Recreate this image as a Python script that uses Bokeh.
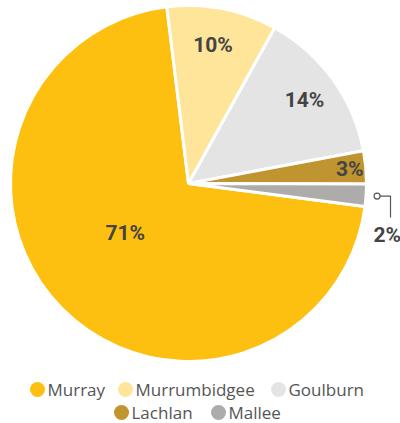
import math
from bokeh.plotting import figure
from bokeh.models import Range1d, ColumnDataSource
from bokeh.core.properties import value
from bokeh.embed import file_html
from bokeh.resources import INLINE

# ---- data ----
categories = ["Murray", "Murrumbidgee", "Goulburn", "Lachlan", "Mallee"]
shares = [71, 10, 14, 3, 2]
pct_labels = ["71%", "10%", "14%", "3%", "2%"]

# ---- style / layout ----
colors = ["#FDC010", "#FEE599", "#E5E4E4", "#C0942E", "#AEABAB"]
W, H = 400, 423
CX, CY, R = 188, 183, 178          # page pixel coordinates
FIRST_CW = -7.0                     # clockwise angle (deg from 12 o'clock) where Murrumbidgee starts
label_r = [80, 141, 143, 162, None]
label_off = [7, -1, 0, 0, 0]
legend_x = [37, 125, 278, 121, 218]
legend_y = [389, 389, 389, 412, 412]

p = figure(width=W, height=H, output_backend="svg", toolbar_location=None,
           x_range=Range1d(0, W), y_range=Range1d(-H, 0),
           x_axis_location=None, y_axis_location=None, min_border=0)
p.grid.visible = False
p.outline_line_color = None
p.background_fill_color = "white"
p.border_fill_color = "white"

total = sum(shares)
start_cw = FIRST_CW - 360.0 * shares[0] / total
starts, ends, mids = [], [], []
cum = start_cw
for s in shares:
    a = cum
    b = cum + 360.0 * s / total
    starts.append(math.radians(90 - b))
    ends.append(math.radians(90 - a))
    mids.append((a + b) / 2)
    cum = b

src = ColumnDataSource(dict(start=starts, end=ends, color=colors, cat=categories))
p.wedge(x=CX, y=-CY, radius=R, start_angle="start", end_angle="end",
        fill_color="color", line_color="white", line_width=3, source=src)

# in-slice labels
lx, ly, lt = [], [], []
for i in range(len(shares)):
    if label_r[i] is None:
        continue
    ang = math.radians(mids[i] + label_off[i])
    lx.append(CX + label_r[i] * math.sin(ang))
    ly.append(-(CY - label_r[i] * math.cos(ang)))
    lt.append(pct_labels[i])
p.text(x=lx, y=ly, text=lt, text_font=value("Roboto"), text_font_style="bold",
       text_font_size="21px", text_color="#444444", text_align="center",
       text_baseline="middle")

# leader line for the small slice
i = 4
ang = math.radians(mids[i])
px = CX + 189 * math.sin(ang)
py = CY - 189 * math.cos(ang)
p.line(x=[px, 390, 390], y=[-py, -py, -217], line_color="#555555", line_width=1.2)
p.scatter(x=[px], y=[-py], size=6, marker="circle", fill_color="white",
          line_color="#555555", line_width=1.2)
p.text(x=[373], y=[-234], text=[pct_labels[i]], text_font=value("Roboto"),
       text_font_style="bold", text_font_size="21px", text_color="#444444",
       text_align="left", text_baseline="middle")

# legend
p.scatter(x=legend_x, y=[-v for v in legend_y], size=15, marker="circle",
          fill_color=colors, line_color=None)
p.text(x=[v + 10 for v in legend_x], y=[-v for v in legend_y], text=categories,
       text_font=value("Open Sans"), text_font_size="17px", text_color="#555555",
       text_align="left", text_baseline="middle")

open("out.html", "w").write(file_html(p, INLINE))
